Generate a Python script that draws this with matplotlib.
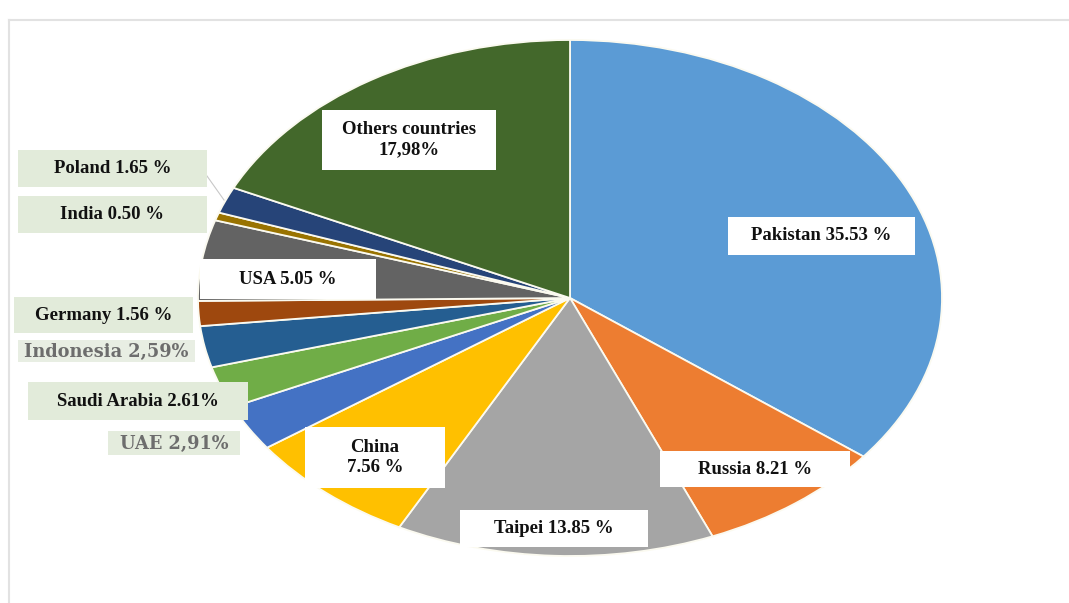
import matplotlib
matplotlib.use("Agg")
import matplotlib.pyplot as plt

# share of each country (%), clockwise from 12 o'clock
countries = ["Pakistan", "Russia", "Taipei", "China", "UAE", "Saudi Arabia",
             "Indonesia", "Germany", "USA", "India", "Poland", "Others countries"]
shares = [35.53, 8.21, 13.85, 7.56, 2.91, 2.61, 2.59, 1.56, 5.05, 0.50, 1.65, 17.98]
label_texts = ["Pakistan 35.53 %", "Russia 8.21 %", "Taipei 13.85 %", "China\n7.56 %",
               "UAE 2,91%", "Saudi Arabia 2.61%", "Indonesia 2,59%", "Germany 1.56 %",
               "USA 5.05 %", "India 0.50 %", "Poland 1.65 %", "Others countries\n17,98%"]
colors = ["#5B9BD5", "#ED7D31", "#A5A5A5", "#FFC000", "#4472C4", "#70AD47",
          "#255E91", "#9E480E", "#636363", "#997300", "#264478", "#43682B"]

W, H = 1069, 603
fig = plt.figure(figsize=(W / 100, H / 100), dpi=100)

# pie stretched into an ellipse: center (570, 298), rx 372, ry 258 (pixels)
cx, cy, rx, ry = 570, 298, 372, 258
ax = fig.add_axes([(cx - rx) / W, (H - cy - ry) / H, 2 * rx / W, 2 * ry / H])
ax.pie(shares, colors=colors, startangle=90, counterclock=False,
       wedgeprops=dict(edgecolor="#fbfaf0", linewidth=1.3))
ax.set_aspect("auto")
ax.set_xlim(-1, 1)
ax.set_ylim(-1, 1)
ax.axis("off")

# overlay in pixel coordinates for labels and frame
ov = fig.add_axes([0, 0, 1, 1], facecolor="none")
ov.set_xlim(0, W)
ov.set_ylim(H, 0)
ov.axis("off")

# frame lines
ov.plot([9, 9], [20, H], color="#e2e2e2", lw=1.5)
ov.plot([9, W], [20, 20], color="#e2e2e2", lw=1.5)

# leader line for Poland
ov.plot([207, 224], [176, 200], color="#c8c8c8", lw=0.8)

# label boxes: (x0, y0, x1, y1), face colour
boxes = {
    "Pakistan": ((728, 217, 915, 255), "white"),
    "Russia": ((660, 451, 850, 487), "white"),
    "Taipei": ((460, 510, 648, 547), "white"),
    "China": ((305, 427, 445, 488), "white"),
    "UAE": ((108, 431, 240, 455), "#e4ecdd"),
    "Saudi Arabia": ((28, 382, 248, 420), "#e2ebda"),
    "Indonesia": ((18, 340, 195, 362), "#e8eee3"),
    "Germany": ((14, 297, 193, 333), "#e2ebda"),
    "USA": ((200, 259, 376, 299), "white"),
    "India": ((18, 196, 207, 233), "#e2ebda"),
    "Poland": ((18, 150, 207, 187), "#e2ebda"),
    "Others countries": ((322, 110, 496, 170), "white"),
}
text_pos = {"USA": (288, 280)}

for name, txt in zip(countries, label_texts):
    (x0, y0, x1, y1), fc = boxes[name]
    ov.add_patch(plt.Rectangle((x0, y0), x1 - x0, y1 - y0, facecolor=fc,
                               edgecolor="none", zorder=3))
    tx, ty = text_pos.get(name, ((x0 + x1) / 2, (y0 + y1) / 2))
    if name in ("Indonesia", "UAE"):
        ov.text(tx, ty + 1, txt, ha="center", va="center", fontsize=12.8,
                family="DejaVu Serif", weight="bold", color="#6d6d6d", zorder=4)
    else:
        ov.text(tx, ty, txt, ha="center", va="center", fontsize=13.5,
                family="Liberation Serif", weight="bold", color="#111111",
                linespacing=1.25, zorder=4)

fig.savefig("out.png", dpi=100)
